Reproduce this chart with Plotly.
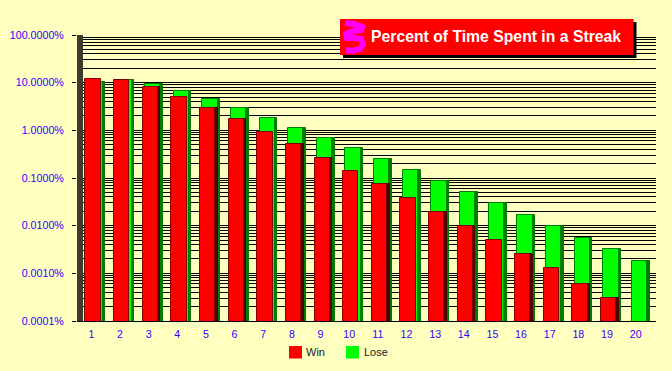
import plotly.graph_objects as go

streaks = list(range(1, 21))
win = [11.9, 11.4, 8.11, 5.0, 2.98, 1.75, 0.923, 0.525, 0.263, 0.142, 0.0749, 0.0381,
       0.0196, 0.0100, 0.00508, 0.00258, 0.00129, 0.00060, 0.00030, None]
lose = [10.3, 11.3, 9.5, 6.8, 4.6, 3.0, 1.81, 1.135, 0.69, 0.427, 0.25, 0.147,
        0.088, 0.0509, 0.0299, 0.0170, 0.0100, 0.00552, 0.00324, 0.00185]
win_shadow_streaks = [3, 5, 6, 8, 9, 11, 13, 14, 16, 18, 19]
y_ticks = [100, 10, 1, 0.1, 0.01, 0.001, 0.0001]
y_labels = ["100.0000%", "10.0000%", "1.0000%", "0.1000%", "0.0100%", "0.0010%", "0.0001%"]
title_text = "Percent of Time Spent in a Streak"
legend_names = ["Win", "Lose"]

W, H = 672, 371
L, R, T, B = 77, 656, 35, 321
STEP = 28.65
BG = "#ffffc0"
TICK_BLUE = "#3300ff"
FONT = "Liberation Sans, Arial, sans-serif"


def px(v):
    return (v - L) / (R - L)


def py(v):
    return (B - v) / (B - T)


minor_vals = [m * 10.0 ** e for e in range(-4, 2) for m in range(2, 10)]

fig = go.Figure()


def bars(x, y, color, line, left, name=None):
    fig.add_bar(
        x=x, y=y, name=name, showlegend=False,
        offset=left / STEP, width=15.3 / STEP,
        marker=dict(color=color, line=dict(color=line, width=1)),
        hoverinfo="skip",
    )


bars(streaks, lose, "#007a00", "#007a00", -1.2)
bars(streaks, lose, "#00ff00", "#008000", -3.7, legend_names[1])
shadow_y = [win[s - 1] for s in win_shadow_streaks]
bars(win_shadow_streaks, shadow_y, "#500000", "#500000", -3.6)
bars(streaks, win, "#ff0000", "#800000", -6.0, legend_names[0])


def rect(x0, x1, y0, y1, color):
    return dict(type="rect", xref="paper", yref="paper", x0=px(x0), x1=px(x1), y0=py(y0), y1=py(y1),
                fillcolor=color, line_width=0, layer="above")


shapes = [
    rect(L, L + 6, B, T, "#3c3c2c"),
    rect(343, 636.5, 22, 58, "#000000"),
    rect(340, 633.5, 19, 55, "#ff0000"),
    rect(289, 302, 346, 358.5, "#ff0000"),
    rect(346, 359, 346, 358.5, "#00ff00"),
]
icon = [(345, 23), (354, 24), (362, 27), (361, 30), (350, 32), (346, 34), (347, 38), (354, 38),
        (361, 39), (363, 44), (360, 49), (352, 51), (346, 50)]
icon_path = "M" + "L".join(f"{px(a):.5f},{py(b):.5f}" for a, b in icon)
shapes.append(dict(type="path", xref="paper", yref="paper", path=icon_path,
                   line=dict(color="#ff00ff", width=6), layer="above"))

annotations = [dict(
    text=f"<b>{title_text}</b>", xref="paper", yref="paper",
    x=px(496), y=py(36.5), xanchor="center", yanchor="middle", showarrow=False,
    font=dict(family=FONT, size=15.75, color="#ffffff"),
)]
for name, left in zip(legend_names, [306, 364]):
    annotations.append(dict(
        text=name, xref="paper", yref="paper", x=px(left), y=py(352), xanchor="left",
        yanchor="middle", showarrow=False, borderpad=0, borderwidth=0,
        font=dict(family=FONT, size=11, color="#202020"),
    ))

fig.update_layout(
    width=W, height=H,
    margin=dict(l=L, r=W - R, t=T, b=H - B, pad=0, autoexpand=False),
    paper_bgcolor=BG, plot_bgcolor=BG,
    barmode="overlay", bargap=0, showlegend=False,
    font=dict(family=FONT, size=11, color=TICK_BLUE),
    xaxis=dict(
        range=[0.5 - (L + 0 - (91.3 - 0.5 * STEP)) / STEP, 0.5 + (R - (91.3 - 0.5 * STEP)) / STEP],
        tickmode="array", tickvals=streaks, ticktext=[str(s) for s in streaks],
        showgrid=False, zeroline=False, showline=True, linecolor="#000000", linewidth=1,
        ticks="", ticklabelstandoff=3, tickfont=dict(family=FONT, size=10.7, color=TICK_BLUE),
    ),
    yaxis=dict(
        type="log", range=[-4, 2],
        tickmode="array", tickvals=y_ticks, ticktext=y_labels,
        showgrid=True, gridcolor="#000000", gridwidth=1, zeroline=False, showline=False,
        ticks="outside", ticklen=4, tickcolor="#000000", tickwidth=1, ticklabelstandoff=6,
        tickfont=dict(family=FONT, size=10.7, color=TICK_BLUE),
        minor=dict(tickmode="array", tickvals=minor_vals, showgrid=True,
                   gridcolor="#000000", gridwidth=1, ticks=""),
    ),
    shapes=shapes,
    annotations=annotations,
)

fig.write_html("out.html", config={"displayModeBar": False},
               post_script="document.body.style.margin='0';")
